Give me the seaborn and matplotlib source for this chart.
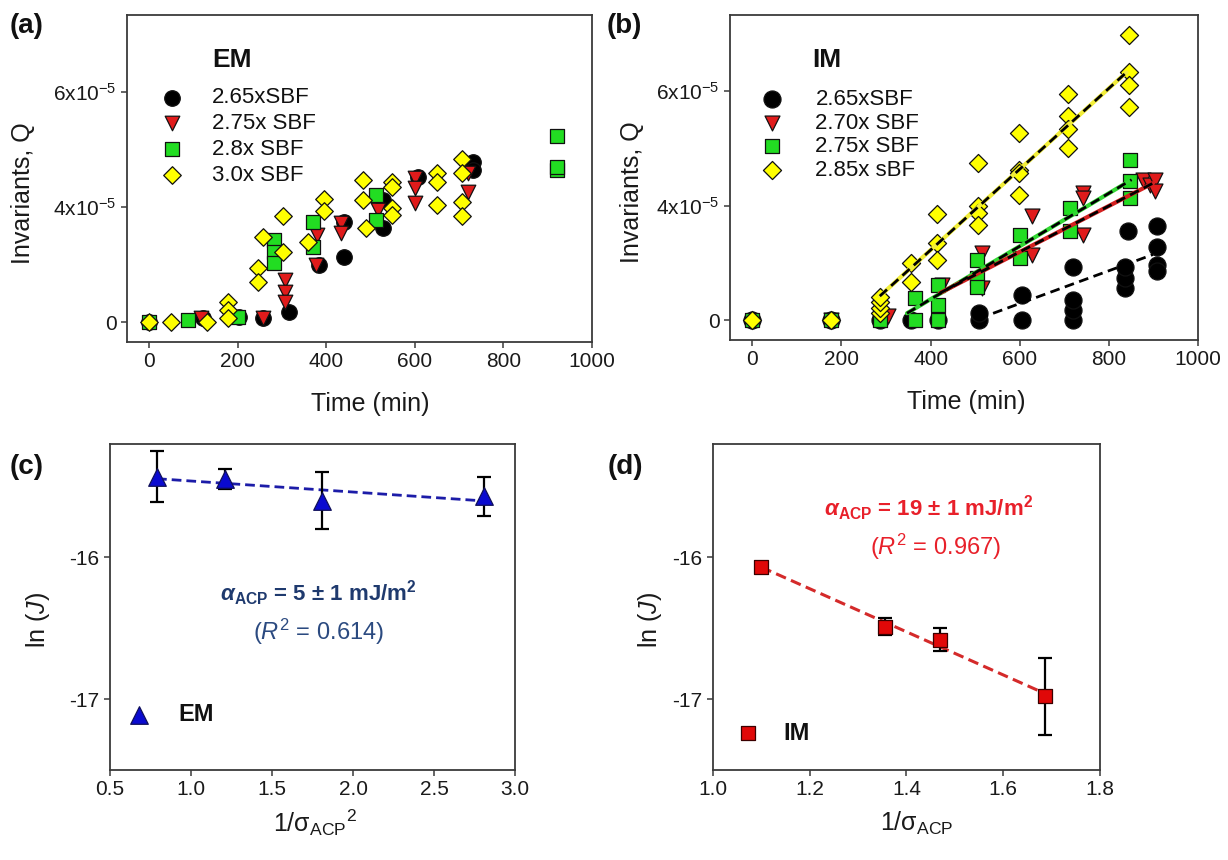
import numpy as np
import pandas as pd
import matplotlib
matplotlib.use("Agg")
import matplotlib.pyplot as plt
import seaborn as sns

# ---------------- data ----------------
# (a) EM invariants vs time; Q values in units of 1e-5
em_265_t = [0, 122, 203, 257, 315, 383, 439, 439, 527, 527, 608, 732, 732]
em_265_q = [0, 0.10, 0.13, 0.10, 0.26, 1.49, 1.70, 2.61, 2.45, 3.19, 3.79, 4.18, 3.97]
em_275_t = [117, 257, 306, 306, 306, 376, 380, 434, 434, 516, 601, 601, 601, 721, 721]
em_275_q = [0.10, 0.10, 1.10, 0.78, 0.52, 1.49, 2.27, 2.58, 2.32, 2.92, 3.76, 3.50, 3.10, 3.89, 3.40]
em_28_t = [0, 88, 200, 282, 282, 282, 371, 371, 513, 513, 922, 922, 922]
em_28_q = [0, 0.05, 0.13, 2.14, 1.83, 1.54, 2.61, 1.96, 3.32, 2.66, 4.86, 3.97, 4.03]
em_30_t = [0, 50, 130, 178, 178, 178, 245, 245, 256, 302, 302, 358, 394, 394, 484, 484, 489,
           549, 549, 549, 549, 651, 651, 651, 707, 707, 707, 707]
em_30_q = [0, 0, 0, 0.52, 0.31, 0.10, 1.41, 1.04, 2.22, 2.77, 1.83, 2.09, 3.21, 2.90, 3.71, 3.19, 2.45,
           3.66, 3.52, 2.98, 2.80, 3.89, 3.66, 3.05, 4.26, 3.89, 3.13, 2.77]

# (b) IM invariants vs time
im_265_t = [0, 177, 286, 357, 416, 508, 508, 604, 604, 719, 719, 719, 719,
            837, 837, 837, 842, 907, 907, 907, 907]
im_265_q = [0, 0, 0, 0, 0, 0, 0.18, 0, 0.66, 0, 0.26, 0.53, 1.40,
            0.84, 1.10, 1.40, 2.33, 2.46, 1.93, 1.45, 1.28]
im_270_t = [177, 305, 425, 515, 515, 628, 628, 741, 741, 741, 877, 892, 903, 903]
im_270_q = [0, 0.10, 0.92, 1.76, 0.84, 2.72, 1.72, 3.33, 3.20, 2.24, 3.68, 3.55, 3.68, 3.38]
im_275_t = [0, 177, 286, 365, 365, 416, 416, 416, 504, 504, 504, 600, 600, 713, 713, 848, 848, 848]
im_275_q = [0, 0, 0, 0, 0.57, 0, 0.40, 0.92, 1.58, 1.10, 0.88, 2.23, 1.63, 2.94, 2.33, 4.20, 3.64, 3.20]
im_285_t = [0, 177, 286, 286, 286, 286, 357, 357, 414, 414, 414, 506, 506, 506, 506,
            598, 598, 598, 598, 709, 709, 709, 709, 846, 846, 846, 846]
im_285_q = [0, 0, 0.18, 0.31, 0.48, 0.61, 1.49, 1.01, 2.77, 2.02, 1.58, 4.12, 2.99, 2.80, 2.50,
            4.91, 3.94, 3.85, 3.28, 5.92, 5.34, 5.00, 4.52, 7.48, 6.51, 6.16, 5.59]

# linear growth fits in (b): start/end time and fitted Q
fit_265_t, fit_265_q = [508, 899], [0.04, 1.72]
fit_270_t, fit_270_q = [421, 899], [0.71, 3.59]
fit_275_t, fit_275_q = [347, 851], [0.18, 3.68]
fit_285_t, fit_285_q = [286, 839], [0.63, 6.49]

q_ticks = [0, 3, 6]
q_tick_labels = ["0", r"$\mathregular{4x10^{-5}}$", r"$\mathregular{6x10^{-5}}$"]
time_ticks = [0, 200, 400, 600, 800, 1000]

em_labels = ["2.65xSBF", "2.75x SBF", "2.8x SBF", "3.0x SBF"]
im_labels = ["2.65xSBF", "2.70x SBF", "2.75x SBF", "2.85x sBF"]

# (c) EM nucleation rate vs 1/sigma^2
em_inv_sigma2 = [0.79, 1.21, 1.81, 2.81]
em_lnJ = [-15.43, -15.45, -15.60, -15.57]
em_lnJ_err = [0.18, 0.07, 0.20, 0.135]

# (d) IM nucleation rate vs 1/sigma
im_inv_sigma = [1.10, 1.355, 1.47, 1.687]
im_lnJ = [-16.07, -16.49, -16.58, -16.98]
im_lnJ_err = [0.03, 0.06, 0.08, 0.27]

# ---------------- style ----------------
sns.set_theme(style="ticks")
plt.rcParams.update({
    "font.family": ["Liberation Sans", "DejaVu Sans"],
    "mathtext.fontset": "custom",
    "mathtext.rm": "Liberation Sans",
    "mathtext.it": "Liberation Sans:italic",
    "mathtext.bf": "Liberation Sans:italic:bold",
    "mathtext.sf": "Liberation Sans:bold",
    "axes.unicode_minus": False,
    "text.color": "#111111",
    "axes.edgecolor": "#3a3a3a",
    "axes.linewidth": 1.3,
    "xtick.color": "#3a3a3a",
    "ytick.color": "#3a3a3a",
    "xtick.labelcolor": "#1a1a1a",
    "ytick.labelcolor": "#1a1a1a",
    "xtick.major.size": 4,
    "ytick.major.size": 4,
    "xtick.major.width": 1.1,
    "ytick.major.width": 1.1,
    "xtick.labelsize": 15,
    "ytick.labelsize": 15,
    "axes.labelsize": 18,
    "axes.labelcolor": "#1a1a1a",
    "legend.labelcolor": "#111111",
})

BLACK = "#000000"
RED = "#e01b1b"
GREEN = "#22dd22"
YELLOW = "#ffff00"

fig = plt.figure(figsize=(12.28, 8.60), dpi=100)
ax_a = fig.add_axes([0.1034, 0.6023, 0.3787, 0.3802])
ax_b = fig.add_axes([0.5945, 0.6047, 0.3811, 0.3779])
ax_c = fig.add_axes([0.0896, 0.1047, 0.3298, 0.3791])
ax_d = fig.add_axes([0.5806, 0.1047, 0.3151, 0.3791])


def scatter_series(ax, t, q, marker, color, size, label):
    df = pd.DataFrame({"t": t, "q": np.asarray(q) * 1e-5})
    sns.scatterplot(data=df, x="t", y="q", ax=ax, marker=marker, color=color,
                    s=size, edgecolor="#111111", linewidth=0.9, label=label,
                    zorder=3, legend=False)


def time_axes(ax, ylab_x, xlab_x):
    ax.set_xlim(-50, 1000)
    ax.set_ylim(-0.52e-5, 8.0e-5)
    ax.set_xticks(time_ticks)
    ax.set_yticks(np.asarray(q_ticks) * 1e-5)
    ax.set_yticklabels(q_tick_labels)
    ax.set_xlabel("Time (min)")
    ax.set_ylabel("Invariants, Q")
    ax.xaxis.set_label_coords(xlab_x, -0.19)
    ax.xaxis.label.set_va("center")
    ax.yaxis.set_label_coords(ylab_x, 0.456)
    ax.yaxis.label.set_va("center")
    for s in ax.spines.values():
        s.set_visible(True)
    ax.tick_params(top=False, right=False)


# ---------------- (a) EM ----------------
scatter_series(ax_a, em_265_t, em_265_q, "o", BLACK, 125, em_labels[0])
scatter_series(ax_a, em_275_t, em_275_q, "v", RED, 110, em_labels[1])
scatter_series(ax_a, em_28_t, em_28_q, "s", GREEN, 95, em_labels[2])
scatter_series(ax_a, em_30_t, em_30_q, "D", YELLOW, 80, em_labels[3])
time_axes(ax_a, -0.224, 0.523)
ax_a.legend(loc="center left", bbox_to_anchor=(0.072, 0.628), frameon=False,
            fontsize=16, handlelength=1.0, handletextpad=1.3, labelspacing=0.22,
            borderpad=0, borderaxespad=0)
ax_a.text(0.183, 0.862, "EM", transform=ax_a.transAxes, fontsize=19,
          fontweight="bold", ha="left", va="center")

# ---------------- (b) IM ----------------
scatter_series(ax_b, im_265_t, im_265_q, "o", BLACK, 150, im_labels[0])
scatter_series(ax_b, im_270_t, im_270_q, "v", RED, 115, im_labels[1])
scatter_series(ax_b, im_275_t, im_275_q, "s", GREEN, 110, im_labels[2])
scatter_series(ax_b, im_285_t, im_285_q, "D", YELLOW, 85, im_labels[3])

for ft, fq, col in [(fit_285_t, fit_285_q, "#f2ee3a"),
                    (fit_275_t, fit_275_q, "#33d833"),
                    (fit_270_t, fit_270_q, "#d42020"),
                    (fit_265_t, fit_265_q, None)]:
    fq_abs = np.asarray(fq) * 1e-5
    if col is not None:
        sns.lineplot(x=ft, y=fq_abs, ax=ax_b, color=col, lw=3.0, zorder=4)
    sns.lineplot(x=ft, y=fq_abs, ax=ax_b, color="black", lw=2.0,
                 linestyle=(0, (3.5, 2.0)), zorder=5)

time_axes(ax_b, -0.209, 0.505)
ax_b.legend(loc="center left", bbox_to_anchor=(0.066, 0.631), frameon=False,
            fontsize=16, handlelength=1.0, handletextpad=1.45, labelspacing=0.12,
            borderpad=0, borderaxespad=0)
ax_b.text(0.175, 0.862, "IM", transform=ax_b.transAxes, fontsize=19,
          fontweight="bold", ha="left", va="center")

# ---------------- (c) EM kinetics ----------------
em_fit = np.polyfit(em_inv_sigma2, em_lnJ, 1)
xc = np.array([min(em_inv_sigma2), max(em_inv_sigma2)])
sns.lineplot(x=xc, y=np.polyval(em_fit, xc), ax=ax_c, color="#1c1ca8", lw=2.0,
             linestyle=(0, (3.5, 1.8)), zorder=2)
ax_c.errorbar(em_inv_sigma2, em_lnJ, yerr=em_lnJ_err, fmt="none", ecolor="black",
              elinewidth=1.6, capsize=5, capthick=1.6, zorder=3)
sns.scatterplot(x=em_inv_sigma2, y=em_lnJ, ax=ax_c, marker="^", color="#0a0ad0",
                s=160, edgecolor="#10105a", linewidth=0.9, label="EM", zorder=4,
                legend=False)
ax_c.set_xlim(0.5, 3.0)
ax_c.set_ylim(-17.5, -15.2)
ax_c.set_xticks([0.5, 1.0, 1.5, 2.0, 2.5, 3.0])
ax_c.set_xticklabels(["0.5", "1.0", "1.5", "2.0", "2.5", "3.0"])
ax_c.set_yticks([-17, -16])
ax_c.set_xlabel(r"$\mathregular{1/{\sigma_{ACP}}^{2}}$")
ax_c.set_ylabel(r"ln ($\mathit{J}$)")
ax_c.xaxis.set_label_coords(0.506, -0.163)
ax_c.xaxis.label.set_va("center")
ax_c.yaxis.set_label_coords(-0.178, 0.46)
ax_c.yaxis.label.set_va("center")
ax_c.legend(loc="center left", bbox_to_anchor=(0.042, 0.169), frameon=False,
            prop={"size": 17, "weight": "bold"}, handlelength=1.0,
            handletextpad=1.16, borderpad=0, borderaxespad=0)
navy = "#1f3a6e"
ax_c.text(0.514, 0.543, r"$\mathbf{\alpha}_{\mathsf{ACP}}$ = 5 ± 1 mJ/m$^{\mathsf{2}}$",
          transform=ax_c.transAxes, ha="center", va="center", fontsize=16,
          fontweight="bold", color=navy)
ax_c.text(0.514, 0.423, r"($\mathit{R}^{2}$ = 0.614)", transform=ax_c.transAxes,
          ha="center", va="center", fontsize=17, color="#2b4a80")

# ---------------- (d) IM kinetics ----------------
im_fit = np.polyfit(im_inv_sigma, im_lnJ, 1)
xd = np.array([min(im_inv_sigma), max(im_inv_sigma)])
sns.lineplot(x=xd, y=np.polyval(im_fit, xd), ax=ax_d, color="#d42a2a", lw=2.2,
             linestyle=(0, (3.5, 1.8)), zorder=2)
ax_d.errorbar(im_inv_sigma, im_lnJ, yerr=im_lnJ_err, fmt="none", ecolor="black",
              elinewidth=1.6, capsize=5, capthick=1.6, zorder=3)
sns.scatterplot(x=im_inv_sigma, y=im_lnJ, ax=ax_d, marker="s", color="#e00808",
                s=110, edgecolor="#3a0000", linewidth=0.9, label="IM", zorder=4,
                legend=False)
ax_d.set_xlim(1.0, 1.8)
ax_d.set_ylim(-17.5, -15.2)
ax_d.set_xticks([1.0, 1.2, 1.4, 1.6, 1.8])
ax_d.set_xticklabels(["1.0", "1.2", "1.4", "1.6", "1.8"])
ax_d.set_yticks([-17, -16])
ax_d.set_xlabel(r"$\mathregular{1/\sigma_{ACP}}$")
ax_d.set_ylabel(r"ln ($\mathit{J}$)")
ax_d.xaxis.set_label_coords(0.527, -0.163)
ax_d.xaxis.label.set_va("center")
ax_d.yaxis.set_label_coords(-0.163, 0.46)
ax_d.yaxis.label.set_va("center")
ax_d.legend(loc="center left", bbox_to_anchor=(0.059, 0.113), frameon=False,
            prop={"size": 17, "weight": "bold"}, handlelength=1.0,
            handletextpad=1.0, borderpad=0, borderaxespad=0)
red_txt = "#e8202a"
ax_d.text(0.558, 0.804, r"$\mathbf{\alpha}_{\mathsf{ACP}}$ = 19 ± 1 mJ/m$^{\mathsf{2}}$",
          transform=ax_d.transAxes, ha="center", va="center", fontsize=16,
          fontweight="bold", color=red_txt)
ax_d.text(0.574, 0.684, r"($\mathit{R}^{2}$ = 0.967)", transform=ax_d.transAxes,
          ha="center", va="center", fontsize=17, color=red_txt)

for ax in (ax_c, ax_d):
    for s in ax.spines.values():
        s.set_visible(True)
    ax.tick_params(top=False, right=False)

# panel letters
for x, y, s in [(0.008, 0.970, "(a)"), (0.494, 0.970, "(b)"),
                (0.008, 0.457, "(c)"), (0.495, 0.457, "(d)")]:
    fig.text(x, y, s, fontsize=20, fontweight="bold", ha="left", va="center")

fig.savefig("out.png", dpi=100, facecolor="white")
